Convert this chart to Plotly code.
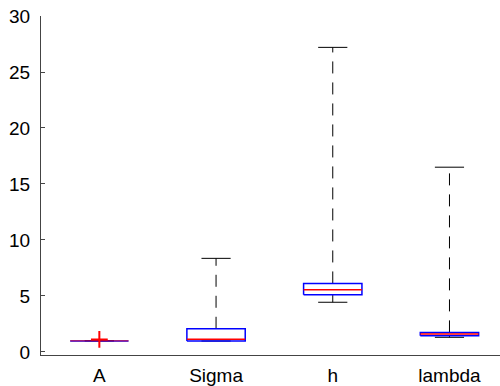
import plotly.graph_objects as go

categories = ["A", "Sigma", "h", "lambda"]
q1 = [0.99, 0.98, 5.12, 1.45]
median = [1.0, 1.13, 5.56, 1.60]
q3 = [1.01, 2.07, 6.12, 1.75]
lower_whisker = [0.99, 0.98, 4.44, 1.31]
upper_whisker = [1.01, 8.36, 27.2, 16.5]
outlier_cat = [1]
outlier_val = [1.12]

box_half = 0.25
cap_half = 0.125

fig = go.Figure()
for i, name in enumerate(categories):
    x = i + 1
    fig.add_trace(go.Scatter(x=[x, x, None, x, x],
                             y=[q3[i], upper_whisker[i], None, q1[i], lower_whisker[i]],
                             mode="lines", line=dict(color="black", width=1, dash="12px,9px"),
                             showlegend=False, hoverinfo="skip"))
    fig.add_trace(go.Scatter(x=[x - cap_half, x + cap_half, None, x - cap_half, x + cap_half],
                             y=[upper_whisker[i], upper_whisker[i], None, lower_whisker[i], lower_whisker[i]],
                             mode="lines", line=dict(color="black", width=1),
                             showlegend=False, hoverinfo="skip"))
    fig.add_trace(go.Scatter(x=[x - box_half, x + box_half, x + box_half, x - box_half, x - box_half],
                             y=[q1[i], q1[i], q3[i], q3[i], q1[i]],
                             mode="lines", line=dict(color="blue", width=1.5),
                             showlegend=False, hoverinfo="skip"))
    thin = (q3[i] - q1[i]) < 0.05
    fig.add_trace(go.Scatter(x=[x - box_half, x + box_half], y=[median[i], median[i]],
                             mode="lines", line=dict(color="red", width=1.5),
                             opacity=0.5 if thin else 1.0, showlegend=False, hoverinfo="skip"))

fig.add_trace(go.Scatter(x=outlier_cat, y=outlier_val, mode="markers",
                         marker=dict(symbol="cross-thin", size=12, line=dict(color="red", width=2)),
                         showlegend=False, hoverinfo="skip"))

fig.update_layout(
    width=500, height=386,
    margin=dict(l=41, r=0, t=16, b=29),
    plot_bgcolor="white", paper_bgcolor="white",
    font=dict(family="Liberation Sans, Arial, sans-serif", size=19, color="black"),
    xaxis=dict(range=[0.5, 4.433], tickmode="array", tickvals=[1, 2, 3, 4], ticktext=categories,
               showgrid=False, zeroline=False, showline=True, linecolor="#444", linewidth=1,
               ticks="", ticklabelstandoff=3),
    yaxis=dict(range=[-0.27, 30], tickmode="array", tickvals=[0, 5, 10, 15, 20, 25, 30],
               showgrid=False, zeroline=False, showline=True, linecolor="#444", linewidth=1,
               ticks="inside", ticklen=4, tickcolor="#444", ticklabelstandoff=6),
)

fig.write_html("out.html", config={"displayModeBar": False},
               post_script="document.body.style.margin='0';document.body.style.overflow='hidden';")
